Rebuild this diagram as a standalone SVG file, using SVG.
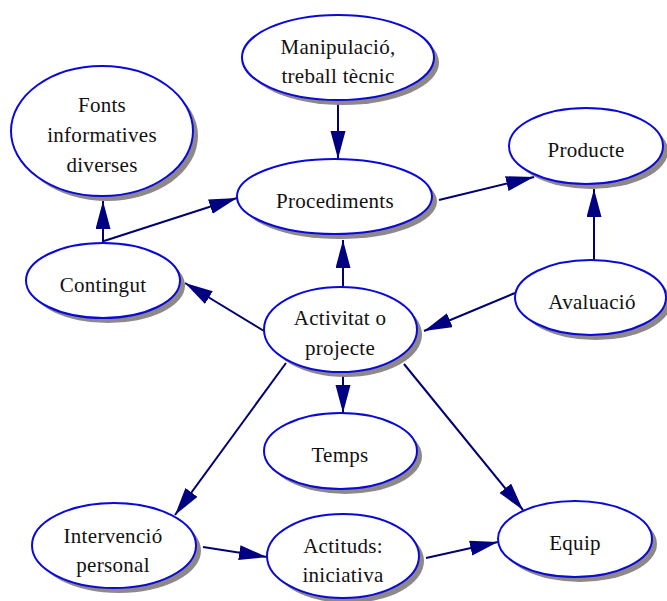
<svg xmlns="http://www.w3.org/2000/svg" width="667" height="601" viewBox="0 0 667 601">
<style>
.sh{fill:#8f8888;stroke:none}
.nd{fill:#ffffff;stroke:#0a0ad8;stroke-width:2}
.t{font-size:21px;fill:#111;text-anchor:middle;letter-spacing:0.3px}
.e{stroke:#000070;stroke-width:2;fill:none;marker-end:url(#ah)}
</style>
<defs>
<marker id="ah" markerUnits="userSpaceOnUse" markerWidth="30" markerHeight="16" refX="28" refY="7.5" orient="auto">
<path d="M0,0 L28,7.5 L0,15 z" fill="#000080"/>
</marker>
</defs>
<rect width="667" height="601" fill="#ffffff"/>
<g id="edges">
<line class="e" x1="338" y1="100" x2="338" y2="159"/>
<line class="e" x1="103" y1="242" x2="103" y2="201"/>
<line class="e" x1="104" y1="241" x2="237" y2="198"/>
<line class="e" x1="439" y1="200" x2="534" y2="177"/>
<line class="e" x1="594" y1="260" x2="594" y2="189"/>
<line class="e" x1="343" y1="287" x2="343" y2="240"/>
<line class="e" x1="264" y1="331" x2="185" y2="283"/>
<line class="e" x1="515" y1="293" x2="424" y2="331"/>
<line class="e" x1="343" y1="372" x2="343" y2="413"/>
<line class="e" x1="286" y1="363" x2="175" y2="515"/>
<line class="e" x1="404" y1="364" x2="523" y2="510"/>
<line class="e" x1="203" y1="547" x2="267" y2="557"/>
<line class="e" x1="426" y1="558" x2="498" y2="542"/>
</g>
<g font-family="Liberation Serif, Times New Roman, serif">
<g id="manipulacio">
<ellipse class="sh" cx="343" cy="62.5" rx="96" ry="42.5"/>
<ellipse class="nd" cx="338" cy="57.5" rx="96" ry="42.5"/>
<text class="t" x="338" y="54">Manipulació,</text>
<text class="t" x="338" y="83">treball tècnic</text>
</g>
<g id="fonts">
<ellipse class="sh" cx="107" cy="136" rx="91" ry="65"/>
<ellipse class="nd" cx="102" cy="131" rx="91" ry="65"/>
<text class="t" x="102" y="112">Fonts</text>
<text class="t" x="102" y="142">informatives</text>
<text class="t" x="102" y="172">diverses</text>
</g>
<g id="procediments">
<ellipse class="sh" cx="339.5" cy="201.5" rx="97.5" ry="37.5"/>
<ellipse class="nd" cx="334.5" cy="196.5" rx="97.5" ry="37.5"/>
<text class="t" x="335" y="208">Procediments</text>
</g>
<g id="producte">
<ellipse class="sh" cx="591" cy="151" rx="77" ry="38"/>
<ellipse class="nd" cx="586" cy="146" rx="77" ry="38"/>
<text class="t" x="586" y="157">Producte</text>
</g>
<g id="contingut">
<ellipse class="sh" cx="108" cy="285.5" rx="77" ry="37.5"/>
<ellipse class="nd" cx="103" cy="280.5" rx="77" ry="37.5"/>
<text class="t" x="103" y="292">Contingut</text>
</g>
<g id="avaluacio">
<ellipse class="sh" cx="595.5" cy="302.5" rx="75.5" ry="37.5"/>
<ellipse class="nd" cx="590.5" cy="297.5" rx="75.5" ry="37.5"/>
<text class="t" x="592" y="309">Avaluació</text>
</g>
<g id="activitat">
<ellipse class="sh" cx="345.5" cy="334.5" rx="76.5" ry="42.5"/>
<ellipse class="nd" cx="340.5" cy="329.5" rx="76.5" ry="42.5"/>
<text class="t" x="340" y="325">Activitat o</text>
<text class="t" x="340" y="355">projecte</text>
</g>
<g id="temps">
<ellipse class="sh" cx="345.5" cy="456" rx="76.5" ry="38"/>
<ellipse class="nd" cx="340.5" cy="451" rx="76.5" ry="38"/>
<text class="t" x="340" y="462">Temps</text>
</g>
<g id="intervencio">
<ellipse class="sh" cx="119" cy="550.5" rx="82" ry="42.5"/>
<ellipse class="nd" cx="114" cy="545.5" rx="82" ry="42.5"/>
<text class="t" x="113" y="543">Intervenció</text>
<text class="t" x="113" y="572">personal</text>
</g>
<g id="actituds">
<ellipse class="sh" cx="348" cy="561" rx="76" ry="42"/>
<ellipse class="nd" cx="343" cy="556" rx="76" ry="42"/>
<text class="t" x="343" y="553">Actituds:</text>
<text class="t" x="343" y="582">iniciativa</text>
</g>
<g id="equip">
<ellipse class="sh" cx="580" cy="544" rx="77" ry="38"/>
<ellipse class="nd" cx="575" cy="539" rx="77" ry="38"/>
<text class="t" x="575" y="550">Equip</text>
</g>
</g>
</svg>
